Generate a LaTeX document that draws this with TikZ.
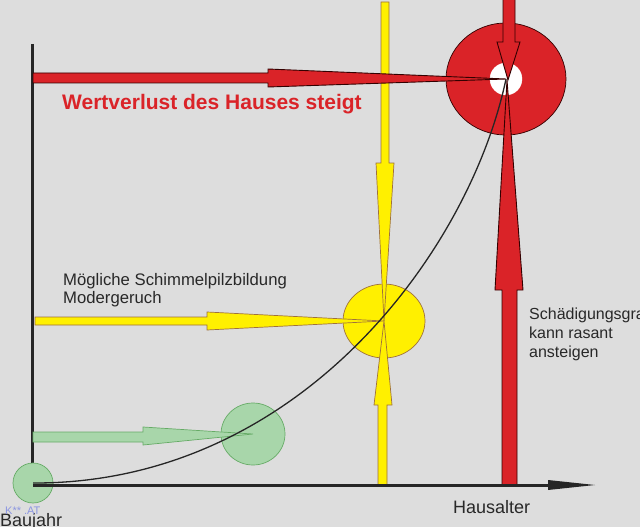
\documentclass[tikz,border=0pt]{standalone}
\usepackage{fontspec}
\setmainfont{Liberation Sans}
\definecolor{bg}{RGB}{221,221,221}
\definecolor{myred}{RGB}{218,35,40}
\definecolor{myyellow}{RGB}{255,240,0}
\definecolor{mygreen}{RGB}{168,214,170}
\definecolor{txt}{RGB}{40,40,40}
\definecolor{wm}{RGB}{140,150,225}
\tikzset{
  redshape/.style={fill=myred, draw=black!80!red, line width=0.9pt, line join=miter},
  yelshape/.style={fill=myyellow, draw=black!60!yellow!70!red, line width=0.7pt},
  grnshape/.style={fill=mygreen, draw=black!55!green!60, line width=0.7pt},
  axisline/.style={draw=black!85, line width=3pt},
  lbl/.style={anchor=base west, inner sep=0pt, text=txt, align=left},
}
\begin{document}
\begin{tikzpicture}[x=1pt,y=-1pt]
\path[fill=bg] (0,0) rectangle (640,527);
\useasboundingbox (0,0) rectangle (640,527);
% centres
\coordinate (C0) at (33,483);
\coordinate (C1) at (253,434);
\coordinate (C2) at (384,321);
\coordinate (C3) at (506,79);
% vertical axis
\draw[axisline] (32,44) -- (32,486);
% circles
\draw[grnshape] (C0) circle [radius=20];
\draw[grnshape] (C1) ellipse [x radius=32, y radius=31];
\draw[yelshape] (C2) ellipse [x radius=41, y radius=37];
\draw[redshape, line width=0.7pt] (C3) ellipse [x radius=60, y radius=56];
\draw[fill=white, draw=white] (C3) circle [radius=16];
% green arrow
\draw[grnshape] (33,432) -- (143,432) -- (143,427) -- (C1) -- (143,445) -- (143,442) -- (33,442) -- cycle;
% yellow arrows
\draw[yelshape] (35,317) -- (207,317) -- (207,312) -- (C2) -- (207,330) -- (207,325) -- (35,325) -- cycle;
\draw[yelshape] (381,2) -- (389,2) -- (389,163) -- (394,163) -- (C2) -- (376,163) -- (381,163) -- cycle;
\draw[yelshape] (378,486) -- (387,486) -- (387,405) -- (392,405) -- (C2) -- (374,405) -- (378,405) -- cycle;
% red arrows
\draw[redshape] (33,73) -- (268,73) -- (268,69) -- (C3) -- (268,87) -- (268,83) -- (33,83) -- cycle;
\draw[redshape] (503,-2) -- (515,-2) -- (515,42) -- (520,42) -- (508,80) -- (497,42) -- (503,42) -- cycle;
\draw[redshape] (502,486) -- (502,290) -- (495,290) -- (507,80) -- (523,290) -- (517,290) -- (517,486) -- cycle;
% horizontal axis
\draw[axisline] (33,485) -- (556,485);
\fill[black!85] (548,480) -- (595,485) -- (548,490) -- cycle;
% curve
\draw[black!85, line width=1.3pt] (C0) .. controls (300,484) and (470,250) .. (C3);
% labels
\node[lbl, text=myred, font=\fontsize{21}{24}\selectfont\bfseries] (t1) at (62,110) {Wertverlust des Hauses steigt};
\node[lbl, font=\fontsize{16.7}{18}\selectfont] (t2) at (63,303) {Mögliche Schimmelpilzbildung\\Modergeruch};
\node[lbl, font=\fontsize{16}{19}\selectfont] (t3) at (529,357) {Schädigungsgrad\\kann rasant\\ansteigen};
\node[lbl, font=\fontsize{18}{20}\selectfont] (t4) at (453,513) {Hausalter};
\node[lbl, font=\fontsize{18}{20}\selectfont] (t5) at (0,526) {Baujahr};
\node[lbl, text=wm, font=\fontsize{11}{13}\selectfont] (t6) at (5,514) {K** .AT};
\end{tikzpicture}
\end{document}
